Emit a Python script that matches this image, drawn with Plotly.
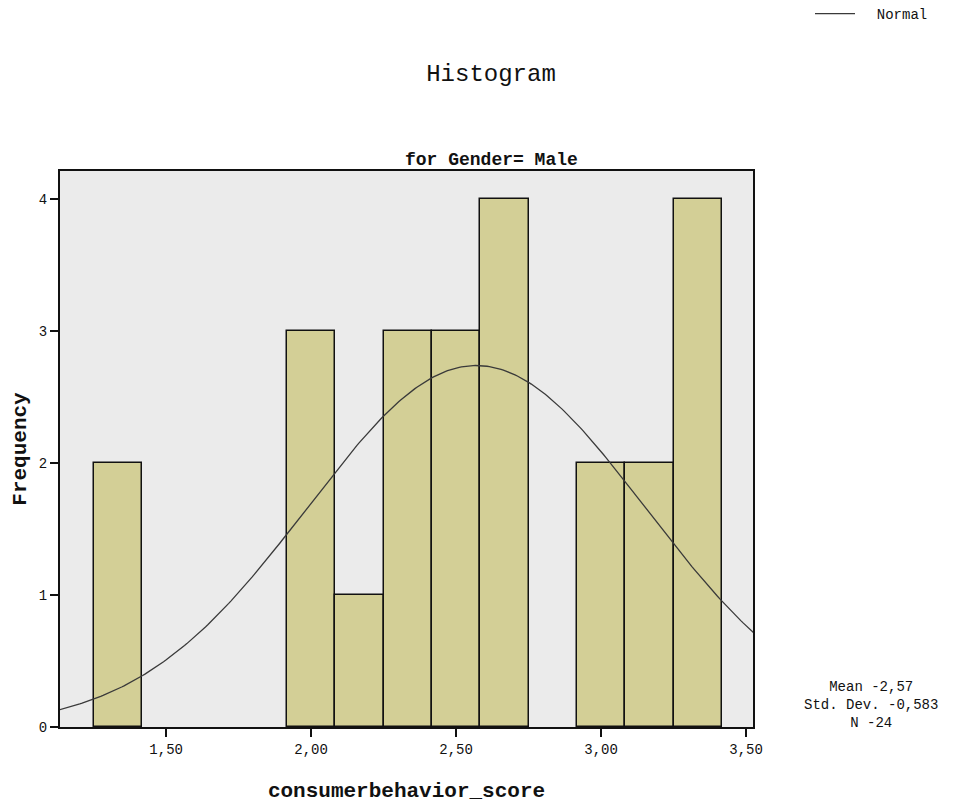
import numpy as np
import plotly.graph_objects as go

# Histogram bins (left edges) and counts for consumerbehavior_score, Gender = Male
bin_width = 1 / 6
bin_left = [1.25, 1.9167, 2.0833, 2.25, 2.4167, 2.5833, 2.9167, 3.0833, 3.25]
counts = [2, 3, 1, 3, 3, 4, 2, 2, 4]

# Summary statistics shown beside the plot
mean_val = 2.57
std_val = 0.583
n_val = 24

x_ticks = [1.5, 2.0, 2.5, 3.0, 3.5]
x_tick_text = ["1,50", "2,00", "2,50", "3,00", "3,50"]
y_ticks = [0, 1, 2, 3, 4]

FONT = "Liberation Mono, Courier New, monospace"
INK = "#111111"

centers = [b + bin_width / 2 for b in bin_left]

# Normal curve scaled to histogram counts
xs = np.linspace(1.13, 3.53, 300)
scale = n_val * bin_width
ys = scale / (std_val * np.sqrt(2 * np.pi)) * np.exp(-0.5 * ((xs - mean_val) / std_val) ** 2)


def comma(v, nd):
    return f"{v:.{nd}f}".replace(".", ",")


stats_text = (f"Mean -{comma(mean_val, 2)}<br>"
              f"Std. Dev. -{comma(std_val, 3)}<br>"
              f"N -{n_val}")

fig = go.Figure()
fig.add_trace(go.Bar(
    x=centers, y=counts, width=bin_width,
    marker=dict(color="#D3CF96", line=dict(color=INK, width=1.5)),
    showlegend=False, hoverinfo="skip",
))
fig.add_trace(go.Scatter(
    x=xs, y=ys, mode="lines", name="  Normal",
    line=dict(color="#3a3a3a", width=1.3),
))

fig.update_layout(
    width=971, height=807,
    margin=dict(l=60, r=218, t=171, b=80, autoexpand=False),
    paper_bgcolor="white",
    plot_bgcolor="#EBEBEB",
    font=dict(family=FONT, color=INK, size=14),
    bargap=0,
    title=dict(text="Histogram", x=491 / 971, xref="container", xanchor="center",
               y=1 - 73 / 807, yref="container", yanchor="middle",
               font=dict(family=FONT, size=24, color=INK)),
    legend=dict(x=810 / 971, y=1 - 14 / 807, xref="container", yref="container",
                xanchor="left", yanchor="middle",
                bgcolor="rgba(0,0,0,0)", font=dict(family=FONT, size=14),
                itemwidth=40),
    xaxis=dict(
        range=[1.134, 3.524], tickvals=x_ticks, ticktext=x_tick_text,
        ticks="outside", ticklen=8, tickwidth=1.5, tickcolor=INK,
        tickfont=dict(size=14),
        showgrid=False, zeroline=False,
        showline=True, linecolor=INK, linewidth=2, mirror=True,
        title=dict(text="<b>consumerbehavior_score</b>", standoff=26,
                   font=dict(family=FONT, size=21, color=INK)),
    ),
    yaxis=dict(
        range=[0, 4.21], tickvals=y_ticks,
        ticks="outside", ticklen=8, tickwidth=1.5, tickcolor=INK,
        tickfont=dict(size=14),
        showgrid=False, zeroline=False,
        showline=True, linecolor=INK, linewidth=2, mirror=True,
        title=dict(text="<b>Frequency</b>", standoff=6,
                   font=dict(family=FONT, size=21, color=INK)),
    ),
    annotations=[
        dict(text="<b>for Gender= Male</b>", xref="paper", yref="paper",
             x=0.623, y=1.0, xanchor="center", yanchor="bottom", yshift=-1,
             showarrow=False,
             font=dict(family=FONT, size=18, color=INK)),
        dict(text=stats_text,
             xref="paper", yref="paper", x=1.17, y=0.04,
             xanchor="center", yanchor="middle", showarrow=False, align="center",
             font=dict(family=FONT, size=14, color=INK)),
    ],
)

fig.write_html("out.html")
